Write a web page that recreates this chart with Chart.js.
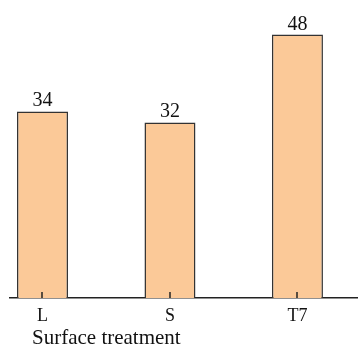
<!DOCTYPE html>
<html lang="en">
<head>
    <meta charset="UTF-8">
    <title>Surface treatment</title>
    <style>
        html, body {
            margin: 0;
            padding: 0;
            background: #fff;
        }
        #wrap {
            width: 358px;
            height: 345px;
        }
    </style>
    <script src="https://cdn.jsdelivr.net/npm/chart.js"></script>
</head>
<body>
    <div id="wrap"><canvas id="chart"></canvas></div>

    <script>
        // data
        const categories = ['L', 'S', 'T7'];
        const values = [34, 32, 48];
        const axisTitle = 'Surface treatment';

        const serif = '"Liberation Serif", "Times New Roman", serif';

        // small tick marks pointing up, value labels, and the axis title
        const extras = {
            id: 'extras',
            afterDatasetsDraw(chart) {
                const ctx = chart.ctx;
                const x = chart.scales.x;
                const area = chart.chartArea;
                const meta = chart.getDatasetMeta(0);

                ctx.save();
                ctx.strokeStyle = '#222';
                ctx.lineWidth = 1.5;
                categories.forEach((c, i) => {
                    const px = Math.round(x.getPixelForValue(i));
                    ctx.beginPath();
                    ctx.moveTo(px, area.bottom - 6);
                    ctx.lineTo(px, area.bottom);
                    ctx.stroke();
                });

                ctx.fillStyle = '#111';
                ctx.font = '20px ' + serif;
                ctx.textAlign = 'center';
                ctx.textBaseline = 'alphabetic';
                meta.data.forEach((bar, i) => {
                    ctx.fillText(String(values[i]), bar.x, bar.y - 5);
                });

                ctx.font = '21px ' + serif;
                ctx.textAlign = 'left';
                ctx.fillText(axisTitle, 32, 344);
                ctx.restore();
            }
        };

        const ctx = document.getElementById('chart').getContext('2d');
        new Chart(ctx, {
            type: 'bar',
            data: {
                datasets: [{
                    data: values.map((v, i) => ({ x: i, y: v })),
                    backgroundColor: '#fbc998',
                    borderColor: '#333',
                    borderWidth: 1.5,
                    barPercentage: 0.4,
                    categoryPercentage: 1
                }]
            },
            options: {
                responsive: true,
                maintainAspectRatio: false,
                animation: false,
                layout: { padding: { left: 10, right: 0, top: 0, bottom: 0 } },
                plugins: {
                    legend: { display: false },
                    tooltip: { enabled: false }
                },
                scales: {
                    x: {
                        type: 'linear',
                        offset: false,
                        min: -0.2549,
                        max: 2.475,
                        afterBuildTicks(scale) {
                            scale.ticks = categories.map((c, i) => ({ value: i }));
                        },
                        afterFit(scale) {
                            scale.height = 47;
                        },
                        grid: { display: false, tickLength: 0 },
                        border: { display: true, color: '#222', width: 1.5 },
                        ticks: {
                            padding: 7,
                            color: '#111',
                            font: { family: serif, size: 18 },
                            callback: (v) => categories[v]
                        }
                    },
                    y: {
                        display: false,
                        min: 0,
                        max: 54.3
                    }
                }
            },
            plugins: [extras]
        });
    </script>
</body>
</html>
